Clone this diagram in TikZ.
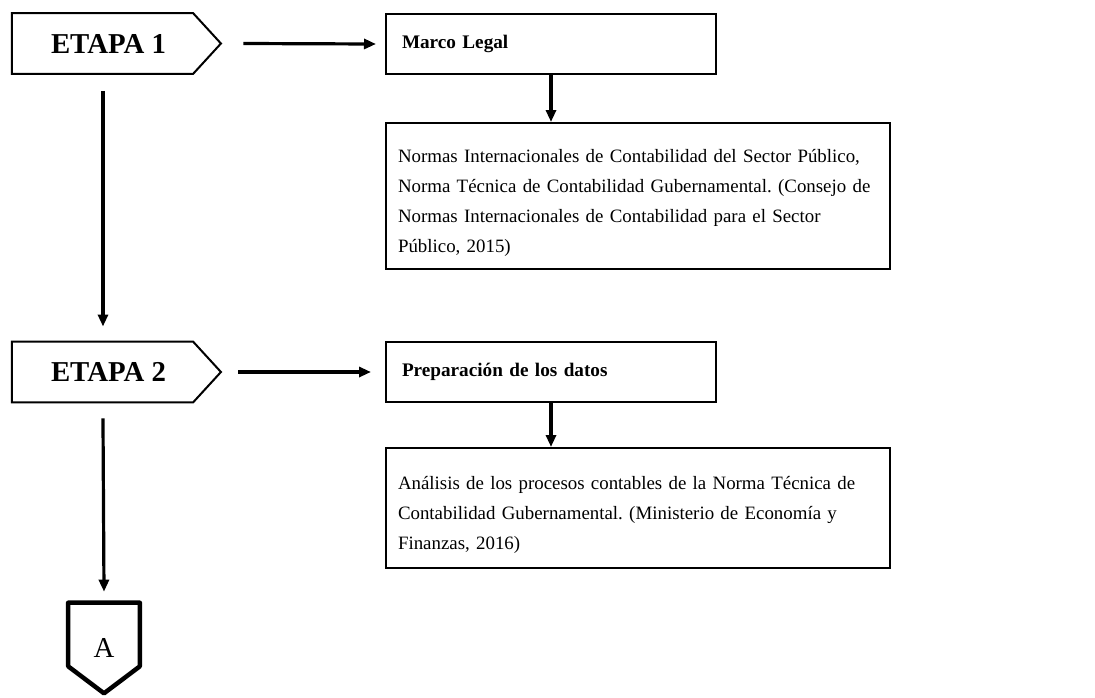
\documentclass[tikz,border=0pt]{standalone}
\usepackage{fontspec}
\setmainfont{Liberation Serif}
\usetikzlibrary{arrows.meta,shapes.symbols}
\frenchspacing

\begin{document}
\begin{tikzpicture}[x=0.625pt,y=-0.625pt,>={Triangle[length=7.5pt,width=6.25pt]},
		etapa/.style={signal, signal to=east, signal pointer angle=95, draw, line width=1.25pt, minimum width=130.6pt, minimum height=38.1pt, inner sep=0pt, font=\fontsize{18}{22}\selectfont\bfseries, execute at begin node={\hspace*{7.5pt}}},
		titulo/.style={draw, line width=1.25pt, minimum width=206.25pt, minimum height=37.5pt, text width=186.25pt, inner xsep=10pt, align=left, font=\fontsize{12}{18.75}\selectfont\bfseries},
		texto/.style={draw, line width=1.25pt, minimum width=315pt, text width=300pt, inner xsep=7.5pt, align=left, font=\fontsize{11.8}{18.75}\selectfont, execute at begin node={\rule{0pt}{17pt}}},
		flecha/.style={->, line width=2pt}]
	\useasboundingbox (0,0) rectangle (1095,697);
	
	\node[etapa] (e1) at (102.5,43.5) {ETAPA 1};
	\node[titulo] (marco) at (551,44) {Marco Legal};
	\node[texto, minimum height=91.25pt] (normas) at (638,196) {Normas Internacionales de Contabilidad del Sector Público,\\
		Norma Técnica de Contabilidad Gubernamental. (Consejo de\\
		Normas Internacionales de Contabilidad para el Sector\\
		Público, 2015)};
	
	\node[etapa] (e2) at (102.5,372) {ETAPA 2};
	\node[titulo] (prep) at (551,372) {Preparación de los datos};
	\node[texto, minimum height=75pt] (analisis) at (638,508) {Análisis de los procesos contables de la Norma Técnica de\\
		Contabilidad Gubernamental. (Ministerio de Economía y\\
		Finanzas, 2016)};
	
	% conector
	\node[minimum width=44.4pt, minimum height=56.25pt, inner sep=0pt, font=\fontsize{18}{22}\selectfont] (conA) at (104,648) {A};
	\draw[line width=2.8pt, line join=round] (conA.north west) -- (conA.north east) -- ([shift={(0,-27)}]conA.south east) -- (conA.south) -- ([shift={(0,-27)}]conA.south west) -- cycle;
	
	\draw[flecha] ([shift={(21,0)}]e1.east) -- ([shift={(-9,0)}]marco.west);
	\draw[flecha] (marco.south) -- (marco.south |- normas.north);
	\draw[flecha] ([shift={(92,16)}]e1.south west) -- ([shift={(92,-14)}]e2.north west);
	
	\draw[flecha] ([shift={(16,0)}]e2.east) -- ([shift={(-14,0)}]prep.west);
	\draw[flecha] (prep.south) -- (prep.south |- analisis.north);
	\draw[flecha] ([shift={(92,15)}]e2.south west) -- ([shift={(0,-11)}]conA.north);
	
\end{tikzpicture}
\end{document}
